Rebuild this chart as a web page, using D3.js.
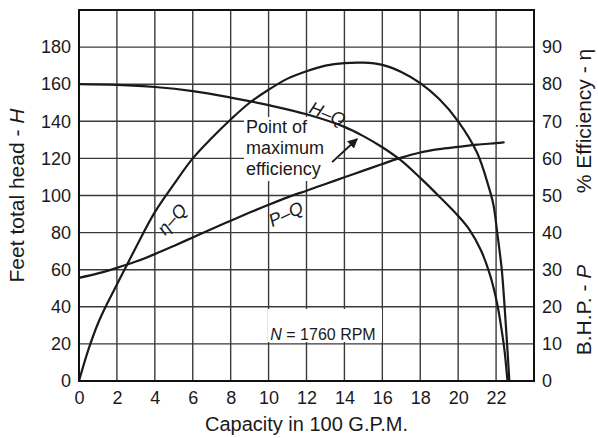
<!DOCTYPE html>
<html><head><meta charset="utf-8">
<script src="https://cdn.jsdelivr.net/npm/d3@7"></script>
<style>
body{margin:0;background:#fff}
svg{display:block}
text{font-family:"Liberation Sans",Arial,Helvetica,sans-serif;fill:#1a1a1a}
</style>
</head><body>
<svg id="c" width="598" height="438"></svg>
<script>
// ---- data ----
const xTicks = [0,2,4,6,8,10,12,14,16,18,20,22];
const headTicks = [0,20,40,60,80,100,120,140,160,180];
const pctTicks = [0,10,20,30,40,50,60,70,80,90];

// H–Q : capacity (100 gpm) vs feet of head
const headQ = [0,2,4,6,8,10,12,14,15,16,17,18,19,20,20.6,21.2,21.7,22.05,22.3,22.45,22.6];
const headH = [160,159.6,158.5,156.3,152.8,148.7,143.8,137,132,126,118.8,109.5,99.5,89,81.5,70.5,56.5,42,27,16,0];

// η–Q : capacity vs % efficiency
const effQ = [0,0.5,1,1.5,2,2.5,3,4,5,6,7,8,9,10,11,12,13,14,15,16,17,18,19,20,21,21.6,21.86,22.06,22.3,22.45,22.58,22.7];
const effV = [0,8.5,15.5,21,26,31,36,45.5,53,60,65.5,70.5,75,78.5,81.5,83.5,85,85.7,85.8,85.2,83.3,80.3,76,70,61.5,52.5,47.5,40,30,20,10,0];

// P–Q : capacity vs brake horsepower
const bhpQ = [0,1,2,3,4,5,6,7,8,9,10,11,12,13,14,15,16,17,18,19,20,21,22,22.4];
const bhpV = [27.8,29,30.5,32.2,34.2,36.4,38.7,41,43.2,45.4,47.5,49.5,51.3,53.1,54.9,56.7,58.5,60.2,61.6,62.5,63.1,63.7,64.1,64.3];

// annotation anchors (data units)
const arrowFrom = [13.35, 118];
const arrowTo = [14.67, 130.5];

// ---- chart ----
const svg = d3.select("#c");
const L = 79, R = 534, T = 10, B = 381;
const x = d3.scaleLinear().domain([0,24]).range([L,R]);
const yH = d3.scaleLinear().domain([0,200]).range([B,T]);
const yP = d3.scaleLinear().domain([0,100]).range([B,T]);

svg.append("rect").attr("width",598).attr("height",438).attr("fill","#fff");

// grid
const grid = svg.append("g").attr("stroke","#3a3a3a").attr("stroke-width",1.4);
grid.selectAll("line.v").data(d3.range(0,25,2)).join("line")
  .attr("x1",d=>x(d)).attr("x2",d=>x(d)).attr("y1",T).attr("y2",B);
grid.selectAll("line.h").data(d3.range(0,201,20)).join("line")
  .attr("y1",d=>yH(d)).attr("y2",d=>yH(d)).attr("x1",L).attr("x2",R);

// white boxes behind annotation texts
svg.append("rect").attr("x",244).attr("y",117).attr("width",94).attr("height",64).attr("fill","#fff");
svg.append("rect").attr("x",268).attr("y",309).attr("width",114).attr("height",33).attr("fill","#fff");

// curves
const curve = d3.curveCatmullRom.alpha(0.5);
const lineH = d3.line().x((d,i)=>x(headQ[i])).y(d=>yH(d)).curve(curve);
const lineE = d3.line().x((d,i)=>x(effQ[i])).y(d=>yP(d)).curve(curve);
const lineP = d3.line().x((d,i)=>x(bhpQ[i])).y(d=>yP(d)).curve(curve);
const cg = svg.append("g").attr("fill","none").attr("stroke","#1a1a1a").attr("stroke-width",2.2).attr("stroke-linecap","round");
cg.append("path").attr("d",lineH(headH));
cg.append("path").attr("d",lineE(effV));
cg.append("path").attr("d",lineP(bhpV));

// border
svg.append("rect").attr("x",L).attr("y",T).attr("width",R-L).attr("height",B-T)
  .attr("fill","none").attr("stroke","#111").attr("stroke-width",2);

// axes (labels only)
const ax = d3.axisBottom(x).tickValues(xTicks).tickSize(0).tickPadding(10).tickFormat(d3.format("d"));
const gx = svg.append("g").attr("transform",`translate(0,${B})`).call(ax);
const ayl = d3.axisLeft(yH).tickValues(headTicks).tickSize(0).tickPadding(8).tickFormat(d3.format("d"));
const gyl = svg.append("g").attr("transform",`translate(${L},0)`).call(ayl);
const ayr = d3.axisRight(yP).tickValues(pctTicks).tickSize(0).tickPadding(8).tickFormat(d3.format("d"));
const gyr = svg.append("g").attr("transform",`translate(${R},0)`).call(ayr);
[gx,gyl,gyr].forEach(g=>{
  g.select(".domain").remove();
  g.selectAll("text").attr("font-size",18).attr("fill","#1a1a1a")
    .style("font-family",'"Liberation Sans",Arial,sans-serif');
});

// axis titles
svg.append("text").attr("x",(L+R)/2).attr("y",431).attr("text-anchor","middle")
  .attr("font-size",20).text("Capacity in 100 G.P.M.");
const tl = svg.append("text").attr("transform",`translate(24,${(T+B)/2}) rotate(-90)`)
  .attr("text-anchor","middle").attr("font-size",21);
tl.append("tspan").text("Feet total head - ");
tl.append("tspan").attr("font-style","italic").text("H");
const tr1 = svg.append("text").attr("transform",`translate(591,121) rotate(-90)`)
  .attr("text-anchor","middle").attr("font-size",21);
tr1.append("tspan").text("% Efficiency - ");
tr1.append("tspan").text("η");
const tr2 = svg.append("text").attr("transform",`translate(591,310) rotate(-90)`)
  .attr("text-anchor","middle").attr("font-size",21);
tr2.append("tspan").text("B.H.P. - ");
tr2.append("tspan").attr("font-style","italic").text("P");

// curve labels
function clabel(px, py, ang, parts){
  const t = svg.append("text").attr("transform",`translate(${px},${py}) rotate(${ang})`)
    .attr("text-anchor","middle").attr("font-size",18).attr("font-style","italic");
  parts.forEach(p=>t.append("tspan").text(p));
}
clabel(x(12.98), yH(141), 22, ["H–Q"]);
clabel(x(5.15), yH(85), -48, ["η–Q"]);
clabel(x(11.05), yH(87), -25, ["P–Q"]);

// annotation
const ann = svg.append("text").attr("font-size",18);
["Point of","maximum","efficiency"].forEach((s,i)=>{
  ann.append("tspan").attr("x",246).attr("y",133+i*21).text(s);
});
svg.append("defs").append("marker").attr("id","ah").attr("viewBox","0 0 10 10")
  .attr("refX",9).attr("refY",5).attr("markerWidth",5).attr("markerHeight",5).attr("orient","auto")
  .append("path").attr("d","M0,0L10,5L0,10Z").attr("fill","#1a1a1a");
svg.append("line").attr("x1",x(arrowFrom[0])).attr("y1",yH(arrowFrom[1]))
  .attr("x2",x(arrowTo[0])).attr("y2",yH(arrowTo[1]))
  .attr("stroke","#1a1a1a").attr("stroke-width",2).attr("marker-end","url(#ah)");

const nt = svg.append("text").attr("x",323).attr("y",340).attr("text-anchor","middle").attr("font-size",16);
nt.append("tspan").attr("font-style","italic").text("N");
nt.append("tspan").text(" = 1760 RPM");
</script>
</body></html>
